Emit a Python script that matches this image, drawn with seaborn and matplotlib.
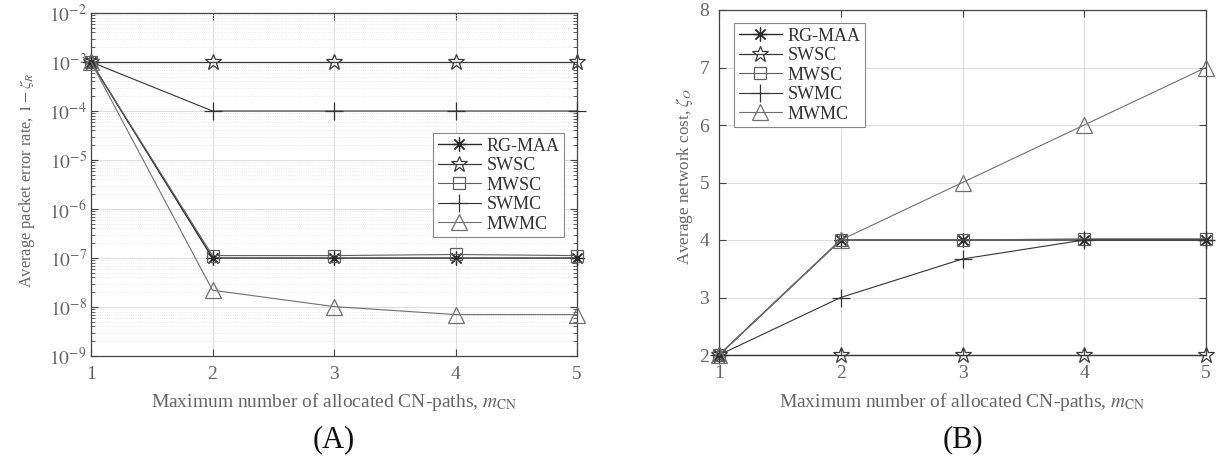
import numpy as np
import pandas as pd
import matplotlib
matplotlib.use("Agg")
import matplotlib.pyplot as plt
import seaborn as sns
from matplotlib.ticker import LogLocator, FixedLocator, NullFormatter, FuncFormatter

# ---------------- data ----------------
m_cn = [1, 2, 3, 4, 5]
series = ["RG-MAA", "SWSC", "MWSC", "SWMC", "MWMC"]

# (A) average packet error rate, 1 - zeta_R
per_rgmaa = [1e-3, 1.0e-7, 1.0e-7, 1.0e-7, 1.0e-7]
per_swsc = [1e-3, 1e-3, 1e-3, 1e-3, 1e-3]
per_mwsc = [1e-3, 1.12e-7, 1.12e-7, 1.18e-7, 1.12e-7]
per_swmc = [1e-3, 1e-4, 1e-4, 1e-4, 1e-4]
per_mwmc = [1e-3, 2.2e-8, 1.02e-8, 7.0e-9, 7.0e-9]

# (B) average network cost, zeta_O
cost_rgmaa = [2, 4, 4, 4, 4]
cost_swsc = [2, 2, 2, 2, 2]
cost_mwsc = [2, 4, 4, 4.02, 4.02]
cost_swmc = [2, 3, 3.67, 4, 4]
cost_mwmc = [2, 4, 5, 6, 7]

per_values = [per_rgmaa, per_swsc, per_mwsc, per_swmc, per_mwmc]
cost_values = [cost_rgmaa, cost_swsc, cost_mwsc, cost_swmc, cost_mwmc]

# ---------------- style ----------------
sns.set_style("ticks")
plt.rcParams["font.family"] = ["Liberation Serif", "DejaVu Serif"]
plt.rcParams["mathtext.fontset"] = "stix"

TEXT = "#666666"
SPINE = "#444444"

styles = {
    "RG-MAA": dict(marker=(8, 2, 0), ms=10, color="#2a2a2a", lw=1.0),
    "SWSC": dict(marker="*", ms=12, color="#3a3a3a", lw=0.9),
    "MWSC": dict(marker="s", ms=8.5, color="#606060", lw=0.8),
    "SWMC": dict(marker="+", ms=13, color="#333333", lw=0.8),
    "MWMC": dict(marker="^", ms=12, color="#707070", lw=0.8),
}

fig = plt.figure(figsize=(12.2, 4.59), dpi=100)
W, H = 1220, 459
axA = fig.add_axes([91 / W, 1 - 356 / H, (577 - 91) / W, (356 - 13) / H])
axB = fig.add_axes([719 / W, 1 - 355 / H, (1206 - 719) / W, (355 - 10) / H])


def draw(ax, values):
    for name, vals in zip(series, values):
        st = styles[name]
        df = pd.DataFrame({"m": m_cn, "v": vals})
        sns.lineplot(data=df, x="m", y="v", ax=ax, marker=st["marker"],
                     markersize=st["ms"], color=st["color"], linewidth=st["lw"],
                     markerfacecolor="none", markeredgecolor=st["color"],
                     markeredgewidth=0.9, label=name, clip_on=False, zorder=3)


draw(axA, per_values)
draw(axB, cost_values)

for ax in (axA, axB):
    ax.set_xlim(1, 5)
    ax.xaxis.set_major_locator(FixedLocator(m_cn))
    for s in ax.spines.values():
        s.set_visible(True)
        s.set_color(SPINE)
        s.set_linewidth(0.9)
    ax.tick_params(which="both", direction="in", top=True, right=True,
                   colors=SPINE, labelcolor=TEXT, labelsize=14)
    ax.tick_params(which="major", length=5)
    ax.tick_params(which="minor", length=3)
    ax.tick_params(axis="x", pad=7)
    ax.set_xlabel("Maximum number of allocated CN-paths, $m_{\\mathrm{CN}}$",
                  fontsize=14, color=TEXT)
    ax.grid(True, which="major", color="#dedede", linewidth=0.8, linestyle="-")
    ax.set_axisbelow(True)

# (A) log axis
axA.set_yscale("log")
axA.set_ylim(1e-9, 1e-2)
axA.yaxis.set_major_locator(LogLocator(base=10, numticks=20))
axA.yaxis.set_minor_locator(LogLocator(base=10, subs=np.arange(2, 10), numticks=100))
axA.yaxis.set_minor_formatter(NullFormatter())
axA.yaxis.set_major_formatter(FuncFormatter(lambda v, p: "$10^{%d}$" % int(round(np.log10(v)))))
axA.grid(True, which="minor", axis="y", color="#e4e4e4", linewidth=0.6, linestyle=":")
axA.tick_params(axis="y", pad=3)
axA.set_ylabel("Average packet error rate, $1-\\zeta_R$", fontsize=11.8, color=TEXT)
axA.yaxis.set_label_coords(-0.111, 0.513)
axA.xaxis.set_label_coords(0.5, -0.102)

# (B) linear axis
axB.set_ylim(2, 8)
axB.yaxis.set_major_locator(FixedLocator([2, 3, 4, 5, 6, 7, 8]))
axB.tick_params(axis="y", pad=7)
axB.set_ylabel("Average network cost, $\\zeta_O$", fontsize=12.3, color=TEXT)
axB.yaxis.set_label_coords(-0.049, 0.517)
axB.xaxis.set_label_coords(0.5, -0.104)

# legends
for ax, bbox in ((axA, (433 / W, 1 - 133 / H)),
                 (axB, (734 / W, 1 - 23 / H))):
    leg = ax.legend(loc="upper left", bbox_to_anchor=bbox,
                    bbox_transform=fig.transFigure, fontsize=13, frameon=True,
                    fancybox=False, framealpha=1, edgecolor="#888888",
                    handlelength=2.4, handletextpad=0.3, labelspacing=0.14,
                    borderpad=0.25, borderaxespad=0)
    leg.get_frame().set_linewidth(0.8)
    for t in leg.get_texts():
        t.set_color("#333333")

fig.text((91 + 577) / 2 / W, 1 - 440 / H, "(A)", ha="center", va="center",
         fontsize=22, color="#111111")
fig.text((719 + 1206) / 2 / W, 1 - 440 / H, "(B)", ha="center", va="center",
         fontsize=22, color="#111111")

fig.savefig("out.png", dpi=100)
